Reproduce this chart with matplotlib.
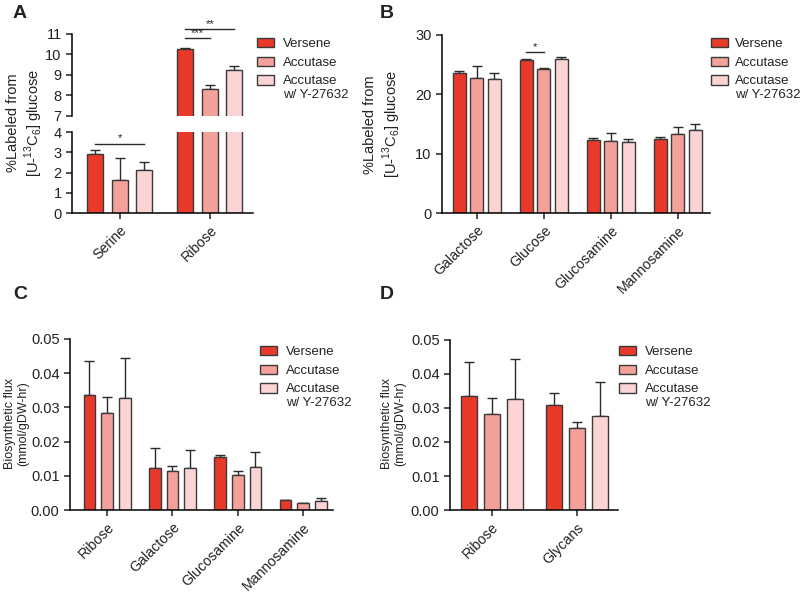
import matplotlib.pyplot as plt
import numpy as np
from matplotlib.patches import Patch
from matplotlib.legend_handler import HandlerPatch

plt.rcParams['font.family'] = ['Liberation Sans', 'DejaVu Sans']
plt.rcParams['mathtext.fontset'] = 'custom'
plt.rcParams['mathtext.rm'] = 'Liberation Sans'
plt.rcParams['axes.linewidth'] = 1.1
plt.rcParams['xtick.major.width'] = 1.1
plt.rcParams['ytick.major.width'] = 1.1
plt.rcParams['xtick.major.size'] = 4
plt.rcParams['ytick.major.size'] = 4
plt.rcParams['xtick.labelsize'] = 10.2
plt.rcParams['ytick.labelsize'] = 10.5
plt.rcParams['text.color'] = '#222222'
plt.rcParams['xtick.color'] = '#222222'
plt.rcParams['ytick.color'] = '#222222'

conditions = ['Versene', 'Accutase', 'Accutase\nw/ Y-27632']
colors = ['#e8392b', '#f4a09b', '#fbd4d3']

# panel A: %labeled (rows = conditions)
a_cats = ['Serine', 'Ribose']
a_means = [[2.92, 10.27], [1.65, 8.33], [2.10, 9.22]]
a_errs = [[0.20, 0.05], [1.07, 0.18], [0.42, 0.22]]

# panel B
b_cats = ['Galactose', 'Glucose', 'Glucosamine', 'Mannosamine']
b_means = [[23.55, 25.75, 12.3, 12.4], [22.8, 24.2, 12.15, 13.3], [22.65, 25.97, 11.9, 13.95]]
b_errs = [[0.45, 0.12, 0.3, 0.4], [1.9, 0.25, 1.4, 1.25], [1.0, 0.25, 0.5, 1.1]]

# panel C: biosynthetic flux
c_cats = ['Ribose', 'Galactose', 'Glucosamine', 'Mannosamine']
c_means = [[0.0336, 0.0124, 0.0155, 0.0028], [0.0283, 0.0113, 0.0103, 0.0020], [0.0327, 0.0124, 0.0125, 0.0026]]
c_errs = [[0.0101, 0.0058, 0.0006, 0.0001], [0.0046, 0.0017, 0.0010, 0.0001], [0.0117, 0.0050, 0.0046, 0.0008]]

# panel D
d_cats = ['Ribose', 'Glycans']
d_means = [[0.0335, 0.0310], [0.0281, 0.0240], [0.0325, 0.0276]]
d_errs = [[0.0099, 0.0035], [0.0047, 0.0020], [0.0118, 0.0099]]


def bars(ax, cats, means, errs, offset, width):
    x = np.arange(len(cats))
    for i in range(3):
        xi = x + (i - 1) * offset
        ax.bar(xi, means[i], width, color=colors[i], edgecolor='#3a3a3a', linewidth=1, zorder=2)
        ax.errorbar(xi, means[i], yerr=[np.zeros(len(cats)), errs[i]], fmt='none',
                    ecolor='#2a2a2a', elinewidth=1, capsize=3.5, capthick=1, zorder=1)
    ax.spines['top'].set_visible(False)
    ax.spines['right'].set_visible(False)
    ax.set_xticks(x)
    ax.set_xticklabels(cats, rotation=45, ha='right', rotation_mode='anchor')


class TopPatch(HandlerPatch):
    # keep the swatch level with the first line of a two-line label
    def create_artists(self, legend, orig_handle, xdescent, ydescent, width, height, fontsize, trans):
        n = legend_lines.get(id(orig_handle), 1)
        shift = 0.6 * fontsize * (n - 1)
        return super().create_artists(legend, orig_handle, xdescent, ydescent - shift,
                                      width, height, fontsize, trans)


legend_lines = {}


def legend(x, y, pad=0.7):
    handles = [Patch(facecolor=c, edgecolor='#3a3a3a', linewidth=1) for c in colors]
    for h, lab in zip(handles, conditions):
        legend_lines[id(h)] = lab.count('\n') + 1
    fig.legend(handles, conditions, loc='upper left', bbox_to_anchor=(x, y), frameon=False,
               fontsize=9.5, borderpad=0, borderaxespad=0, handlelength=1.3, handleheight=0.7,
               handletextpad=pad, labelspacing=0.48,
               handler_map={Patch: TopPatch()})


def sig(ax, x0, x1, y, stars):
    ax.plot([x0, x1], [y, y], color='#2a2a2a', lw=1, clip_on=False)
    ax.text((x0 + x1) / 2, y, stars, ha='center', va='bottom', fontsize=8, clip_on=False)


fig = plt.figure(figsize=(8, 5.92), dpi=100)

# ---- A (broken axis)
axAt = fig.add_axes([0.09, 0.8041, 0.226, 0.1385])
axAb = fig.add_axes([0.09, 0.6402, 0.226, 0.1368])
for ax in (axAt, axAb):
    bars(ax, a_cats, a_means, a_errs, 0.272, 0.178)
    ax.set_xlim(-0.533, 1.478)
axAt.set_ylim(7, 11)
axAt.set_yticks(range(7, 12))
axAt.spines['bottom'].set_visible(False)
axAt.tick_params(axis='x', bottom=False, labelbottom=False)
axAb.set_ylim(0, 4)
axAb.set_yticks(range(0, 5))
sig(axAb, -0.272, 0.272, 3.43, '*')
sig(axAt, 1 - 0.272, 1.0, 10.8, '***')
sig(axAt, 1 - 0.272, 1.272, 11.24, '**')
fig.text(0.032, 0.792, '%Labeled from\n[U-$^{\\mathregular{13}}$C$_{\\mathregular{6}}$] glucose',
         rotation=90, ha='center', va='center', multialignment='center', fontsize=10.5)
legend(257 / 800, 1 - 38 / 592)

# ---- B
axB = fig.add_axes([0.5525, 0.6402, 0.335, 0.3007])
bars(axB, b_cats, b_means, b_errs, 0.26, 0.19)
axB.set_xlim(-0.52, 3.48)
axB.set_ylim(0, 30)
axB.set_yticks([0, 10, 20, 30])
sig(axB, 1 - 0.26, 1.0, 27.2, '*')
fig.text(0.479, 0.79, '%Labeled from\n[U-$^{\\mathregular{13}}$C$_{\\mathregular{6}}$] glucose',
         rotation=90, ha='center', va='center', multialignment='center', fontsize=10.5)
legend(711 / 800, 1 - 38 / 592, pad=0.55)

# ---- C
axC = fig.add_axes([0.0875, 0.1385, 0.329, 0.2889])
bars(axC, c_cats, c_means, c_errs, 0.27, 0.18)
axC.set_xlim(-0.567, 3.46)
axC.set_ylim(0, 0.05)
axC.set_yticks([0, 0.01, 0.02, 0.03, 0.04, 0.05])
axC.set_yticklabels(['0.00', '0.01', '0.02', '0.03', '0.04', '0.05'])
fig.text(0.021, 0.284, 'Biosynthetic flux\n(mmol/gDW-hr)', rotation=90, ha='center',
         va='center', multialignment='center', fontsize=9)
legend(260 / 800, 1 - 346 / 592)

# ---- D
axD = fig.add_axes([0.5625, 0.1385, 0.21, 0.2872])
bars(axD, d_cats, d_means, d_errs, 0.27, 0.19)
axD.set_xlim(-0.49, 1.48)
axD.set_ylim(0, 0.05)
axD.set_yticks([0, 0.01, 0.02, 0.03, 0.04, 0.05])
axD.set_yticklabels(['0.00', '0.01', '0.02', '0.03', '0.04', '0.05'])
fig.text(0.492, 0.284, 'Biosynthetic flux\n(mmol/gDW-hr)', rotation=90, ha='center',
         va='center', multialignment='center', fontsize=9)
legend(619 / 800, 1 - 346 / 592)

for lab, x, y in [('A', 20, 13), ('B', 387, 13), ('C', 20, 295), ('D', 387, 295)]:
    fig.text(x / 800, 1 - y / 592, lab, fontsize=14, fontweight='bold', ha='center', va='center')

fig.savefig('out.png', dpi=100)
